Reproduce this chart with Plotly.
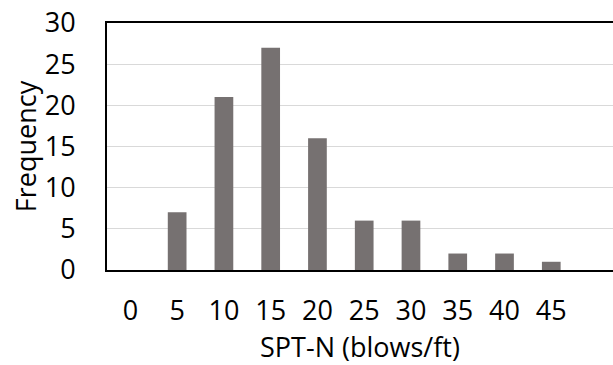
import plotly.graph_objects as go

# SPT-N bins (blows/ft) and the number of samples in each
spt_bins = [0, 5, 10, 15, 20, 25, 30, 35, 40, 45]
frequency = [0, 7, 21, 27, 16, 6, 6, 2, 2, 1]
tick_labels = [str(b) for b in spt_bins]

FONT = "Open Sans"
FONT_SIZE = 27
BAR_COLOR = "#767171"
GRID_COLOR = "#d9d9d9"

fig = go.Figure(
    go.Bar(
        x=spt_bins,
        y=frequency,
        width=2.0,
        marker=dict(color=BAR_COLOR, line=dict(width=0)),
    )
)

fig.update_layout(
    width=613,
    height=365,
    margin=dict(l=107, r=0, t=23, b=95),
    paper_bgcolor="white",
    plot_bgcolor="white",
    showlegend=False,
    font=dict(family=FONT, size=FONT_SIZE, color="black"),
)

fig.update_xaxes(
    range=[-2.5, 51.6],
    tickmode="array",
    tickvals=spt_bins,
    ticktext=tick_labels,
    ticks="",
    ticklabelstandoff=16,
    showgrid=False,
    zeroline=False,
    showline=True,
    linecolor="black",
    linewidth=2,
    mirror=True,
    tickfont=dict(family=FONT, size=FONT_SIZE, color="black"),
    title=dict(text="SPT-N (blows/ft)", standoff=6,
               font=dict(family=FONT, size=FONT_SIZE, color="black")),
)

fig.update_yaxes(
    range=[0, 30],
    dtick=5,
    ticks="",
    ticklabelstandoff=24,
    showgrid=True,
    gridcolor=GRID_COLOR,
    gridwidth=1,
    zeroline=False,
    showline=True,
    linecolor="black",
    linewidth=2,
    tickfont=dict(family=FONT, size=FONT_SIZE, color="black"),
    title=dict(text="Frequency", standoff=0,
               font=dict(family=FONT, size=FONT_SIZE, color="black")),
)

fig.write_html("out.html")
